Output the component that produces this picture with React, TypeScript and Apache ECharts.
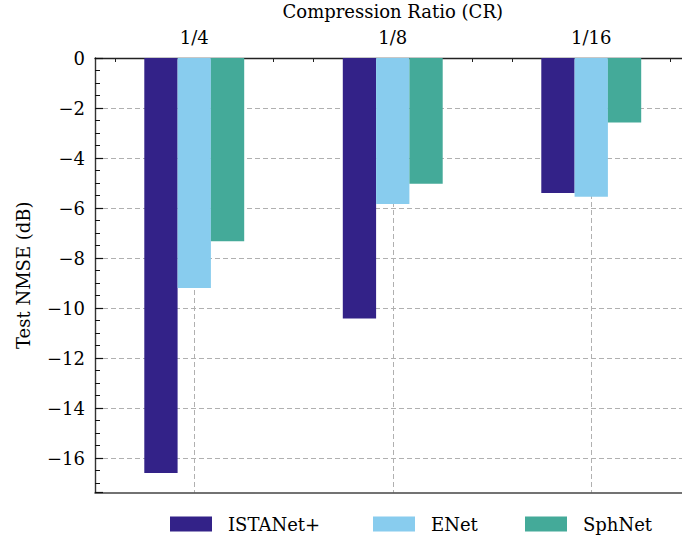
import React, { useEffect, useRef } from "react";
import * as echarts from "echarts";

const categories = ["1/4", "1/8", "1/16"];
const seriesNames = ["ISTANet+", "ENet", "SphNet"];
const istanetValues = [-16.6, -10.42, -5.4];
const enetValues = [-9.2, -5.84, -5.55];
const sphnetValues = [-7.33, -5.03, -2.58];
const colors = ["#332288", "#88CCEE", "#44AA99"];
const yMin = -17.38;
const yMax = 0;
// fine positions along the top axis (one every 0.1 category band, from -0.5 to 2.5)
const fineSteps = Array.from({ length: 31 }, (_, i) => String(i));

const FONT = "'DejaVu Serif', serif";

export default function App() {
  const ref = useRef<HTMLDivElement>(null);
  useEffect(() => {
    document.body.style.margin = "0";
    if (!ref.current) return;
    const chart = echarts.init(ref.current, undefined, { renderer: "svg" });
    const values = [istanetValues, enetValues, sphnetValues];
    const legendLefts = [165, 368, 520];
    chart.setOption({
      animation: false,
      textStyle: { fontFamily: FONT, color: "#000" },
      grid: {
        left: 95,
        top: 58,
        width: 595.5,
        height: 434.5,
        show: false,
        containLabel: false,
        outerBoundsMode: "none",
      },
      legend: seriesNames.map((n, i) => ({
        data: [n],
        left: legendLefts[i],
        top: 510,
        icon: "rect",
        itemWidth: 42,
        itemHeight: 15,
        textStyle: { fontFamily: FONT, fontSize: 18, color: "#000", padding: [0, 0, 0, 11] },
        selectedMode: false,
      })),
      xAxis: [
        {
          type: "category",
          data: categories,
          position: "top",
          axisLine: { show: false },
          axisTick: { show: false },
          splitLine: { show: false },
          axisLabel: { fontFamily: FONT, fontSize: 18, color: "#000", margin: 12 },
          name: "Compression Ratio (CR)",
          nameLocation: "middle",
          nameGap: 38,
          nameTextStyle: { fontFamily: FONT, fontSize: 18, color: "#000" },
        },
        {
          type: "category",
          data: fineSteps,
          position: "top",
          boundaryGap: false,
          axisLine: { show: true, lineStyle: { color: "#222", width: 1.3 } },
          axisTick: {
            show: true,
            inside: true,
            length: 4,
            interval: (i: number) => i % 2 === 1,
            lineStyle: { color: "#222", width: 1 },
          },
          axisLabel: { show: false },
          splitLine: {
            show: true,
            interval: (i: number) => i % 10 === 5,
            lineStyle: { color: "#b0b0b0", type: [5, 3], width: 1 },
          },
        },
        {
          type: "category",
          data: fineSteps,
          position: "bottom",
          boundaryGap: false,
          axisLine: { show: true, lineStyle: { color: "#444", width: 1.6 } },
          axisTick: { show: false },
          axisLabel: { show: false },
          splitLine: { show: false },
        },
      ],
      yAxis: {
        type: "value",
        min: yMin,
        max: yMax,
        splitNumber: 9,
        axisLine: { show: true, lineStyle: { color: "#333", width: 1.4 } },
        axisTick: { show: true, inside: true, length: 8, lineStyle: { color: "#111", width: 1.2 } },
        minorTick: { show: true, splitNumber: 4, length: 5, lineStyle: { color: "#111", width: 1 } },
        splitLine: {
          show: true,
          showMinLine: false,
          showMaxLine: false,
          lineStyle: { color: "#b0b0b0", type: [5, 3], width: 1 },
        },
        axisLabel: {
          showMinLabel: false,
          fontFamily: FONT,
          fontSize: 18,
          color: "#000",
          margin: 10,
          formatter: (v: number) => (v === 0 ? "0" : "\u2212" + Math.abs(v)),
        },
        name: "Test NMSE (dB)",
        nameLocation: "middle",
        nameGap: 63,
        nameTextStyle: { fontFamily: FONT, fontSize: 18, color: "#000" },
      },
      series: seriesNames.map((n, i) => ({
        type: "bar",
        name: n,
        xAxisIndex: 0,
        data: values[i],
        barWidth: 33.3,
        barGap: "0%",
        itemStyle: { color: colors[i] },
      })),
    });
    return () => chart.dispose();
  }, []);
  return <div ref={ref} style={{ width: 682, height: 535 }} />;
}
